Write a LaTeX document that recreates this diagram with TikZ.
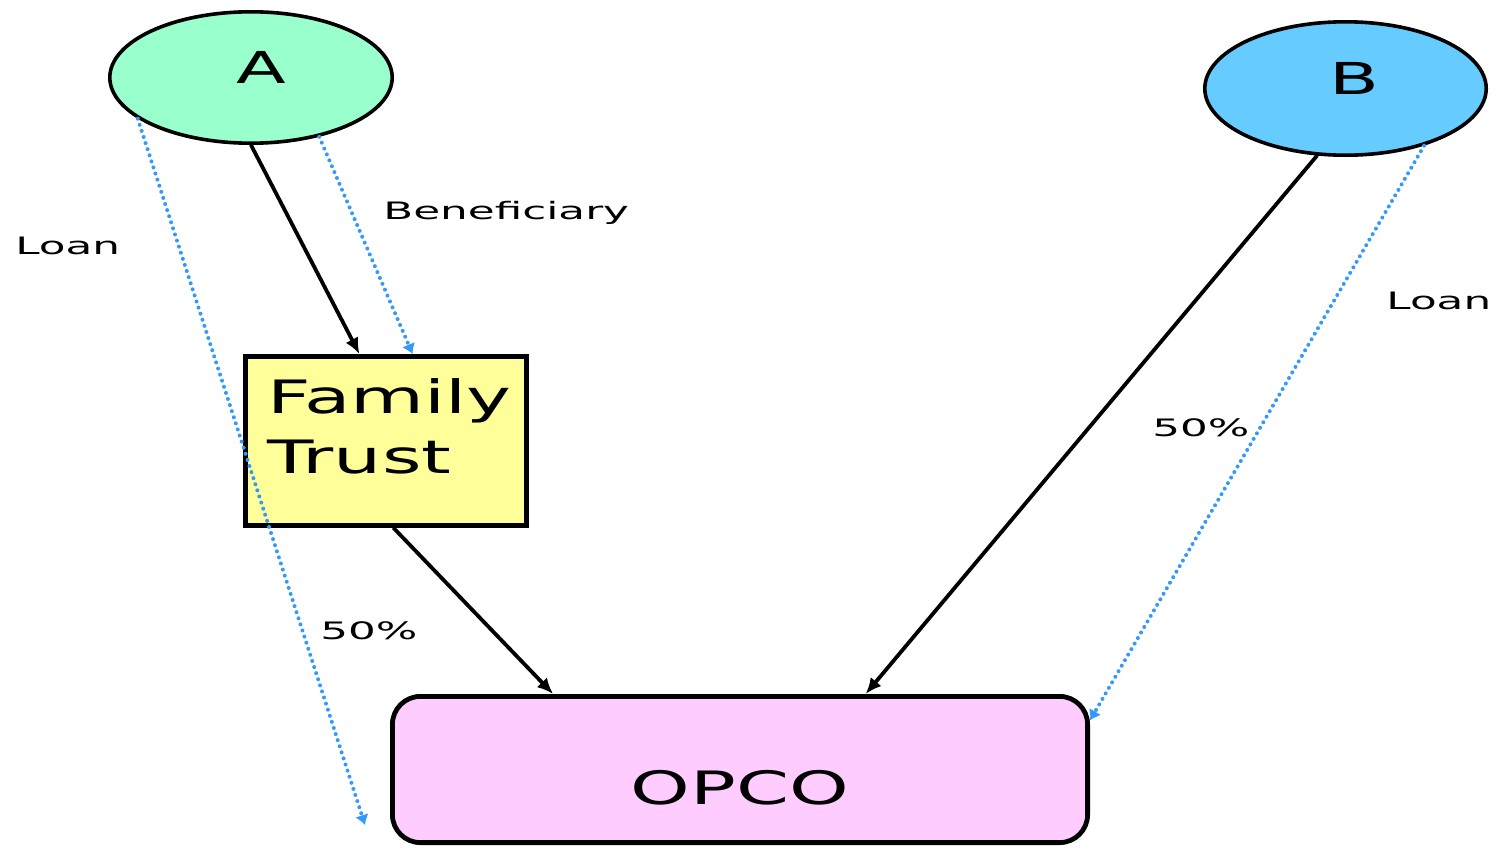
\documentclass[tikz,border=0pt]{standalone}
\usepackage{fontspec}
\setmainfont{DejaVu Sans}
\newfontfamily\widefont[FakeStretch=1.65]{DejaVu Sans}
\newfontfamily\labelfont[FakeStretch=1.82]{DejaVu Sans}
\usetikzlibrary{arrows.meta, shapes.geometric}
\usepackage{xcolor}

\definecolor{mintfill}{HTML}{99FFCC}
\definecolor{skyfill}{HTML}{66CCFF}
\definecolor{trustfill}{HTML}{FFFF99}
\definecolor{opcofill}{HTML}{FFCCFF}
\definecolor{loanblue}{HTML}{3399FF}

\begin{document}
\begin{tikzpicture}[x=0.5pt,y=-0.5pt,cap=round,>=latex,
    party/.style={ellipse, draw=black, line width=1.8pt, inner sep=0pt, text depth=10.5pt,
        font=\widefont\fontsize{22}{26}\selectfont},
    trustbox/.style={rectangle, draw=black, line width=2.4pt, fill=trustfill, inner sep=11pt,
        font=\widefont\fontsize{23}{30}\selectfont},
    opcobox/.style={rectangle, rounded corners=14pt, draw=black, line width=2.4pt, fill=opcofill,
        minimum width=347.6pt, minimum height=73.1pt, text height=34.5pt, text depth=0pt,
        font=\widefont\fontsize{23}{28}\selectfont},
    owns/.style={-{Latex[length=8pt,width=7pt]}, line width=1.9pt},
    loan/.style={-{Latex[length=5pt,width=7pt]}, loanblue, line width=2pt, dash pattern=on 0pt off 3.2pt},
    tag/.style={anchor=base west, inner sep=0pt, font=\labelfont\fontsize{12}{14}\selectfont}]
            \useasboundingbox (0,0) rectangle (1498,851);

            % the two owners
            \node[party, fill=mintfill, minimum width=141.2pt, minimum height=65.7pt] (A) at (251,77.5) {\hspace{10pt}A};
            \node[party, fill=skyfill, minimum width=140.7pt, minimum height=66.7pt] (B) at (1345.5,88.5) {\hspace{9pt}B};

            % the trust and the company
            \node[trustbox] (trust) at (386,441) {\parbox[c][62.6pt][t]{118.6pt}{Family\\Trust}};
            \node[opcobox] (opco) at (740,769.5) {OPCO};
            \coordinate (aloan) at (365,825);

            % shares
            \draw[owns] (A.south) -- (trust.107);
            \draw[owns] (trust.275) -- (opco.158.3);
            \draw[owns] (B.247.5) -- (opco.31.4);

            % loans and beneficiary
            \draw[loan] (A.319) -- (trust.73);
            \draw[loan] (A.200) -- (aloan);
            \draw[loan] (B.324) -- (opco.8.4);

            % text on the lines
            \node[tag] (loanA) at (15,254) {Loan};
            \node[tag] (benef) at (383,219) {Beneficiary};
            \node[tag] (pctA) at (320,639) {50\%};
            \node[tag] (pctB) at (1152,436) {50\%};
            \node[tag] (loanB) at (1386,309) {Loan};
        \end{tikzpicture}
\end{document}
